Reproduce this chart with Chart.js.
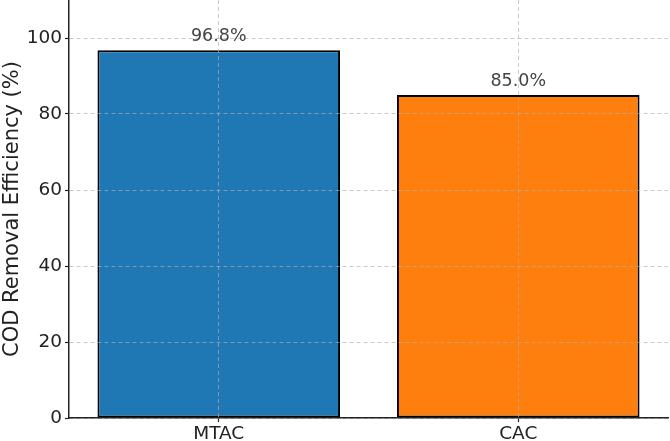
<!DOCTYPE html>
<html>
<head>
<meta charset="utf-8">
<script src="https://cdn.jsdelivr.net/npm/chart.js@4"></script>
<style>
  html, body { margin: 0; padding: 0; background: #fff; }
  canvas { display: block; }
</style>
</head>
<body>
<canvas id="chart" width="670" height="441"></canvas>
<script>
// chart data
const categories = ['MTAC', 'CAC'];
const efficiency = [96.8, 85.0];
const barColors = ['#1f77b4', '#ff7f0e'];
const yTicks = [0, 20, 40, 60, 80, 100];

const gridColor = 'rgba(176, 176, 176, 0.65)';
const axisColor = '#222';
const tickFont = { family: 'DejaVu Sans', size: 18.5 };

// percent labels above each bar
const valueLabels = {
  id: 'valueLabels',
  afterDraw(chart) {
    const ctx = chart.ctx;
    const meta = chart.getDatasetMeta(0);
    ctx.save();
    ctx.font = '17.5px "DejaVu Sans"';
    ctx.fillStyle = '#444';
    ctx.textAlign = 'center';
    ctx.textBaseline = 'alphabetic';
    meta.data.forEach((bar, i) => {
      ctx.fillText(efficiency[i].toFixed(1) + '%', bar.x, bar.y - 9.5);
    });
    ctx.restore();
  }
};

const ctx = document.getElementById('chart').getContext('2d');

new Chart(ctx, {
  type: 'bar',
  data: {
    labels: categories,
    datasets: [
      {
        data: efficiency,
        backgroundColor: barColors,
        borderColor: '#000',
        borderWidth: 2,
        borderSkipped: false,
        barPercentage: 0.81,
        categoryPercentage: 1.0,
      },
    ],
  },
  options: {
    responsive: false,
    animation: false,
    devicePixelRatio: 1,
    layout: { padding: { top: 0, right: 2, left: 0, bottom: 0 } },
    plugins: {
      legend: { display: false },
      tooltip: { enabled: false },
    },
    scales: {
      x: {
        offset: true,
        afterFit: (scale) => {
          scale.height = 23;
          scale.paddingLeft = 0;
          scale.paddingRight = 0;
        },
        grid: {
          offset: false,
          color: gridColor,
          lineWidth: 1,
          z: 1,
          tickColor: axisColor,
          tickLength: 4,
          tickWidth: 1.2,
        },
        border: { color: axisColor, width: 1.5, dash: [4, 3], z: 2 },
        ticks: { color: axisColor, font: tickFont, padding: 1 },
      },
      y: {
        min: 0,
        max: 110,
        afterFit: (scale) => {
          scale.width = 69;
          scale.paddingTop = 0;
          scale.paddingBottom = 0;
        },
        afterBuildTicks: (scale) => {
          scale.ticks = yTicks.map((v) => ({ value: v }));
        },
        grid: {
          color: gridColor,
          lineWidth: 1,
          z: 1,
          tickColor: axisColor,
          tickLength: 4,
          tickWidth: 1.2,
        },
        border: { color: axisColor, width: 1.5, dash: [4, 3], z: 2 },
        ticks: { color: axisColor, font: tickFont, padding: 3 },
        title: {
          display: true,
          text: 'COD Removal Efficiency (%)',
          color: axisColor,
          font: { family: 'DejaVu Sans', size: 21 },
          padding: 0,
        },
      },
    },
  },
  plugins: [valueLabels],
});
</script>
</body>
</html>
